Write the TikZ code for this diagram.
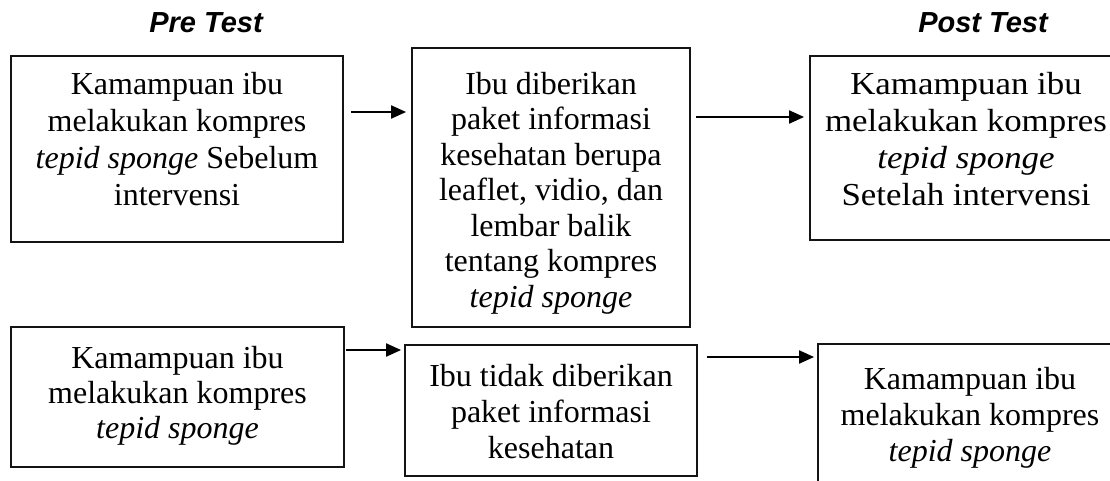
\documentclass[tikz,border=0pt]{standalone}
\usepackage{fontspec}
\setmainfont{Liberation Serif}
\setsansfont{Liberation Sans}
\newfontfamily\widefont[FakeStretch=1.09]{Liberation Serif}
\usepackage{xcolor}
\definecolor{BoxBorder}{RGB}{20,20,20}
\definecolor{ArrowColor}{RGB}{0,0,0}
\usepackage{tikz}
\usetikzlibrary{
  positioning,
  arrows.meta,
  calc
}
\tikzset{
  % Plain box (text is set on top of it)
  box/.style={
    rectangle,
    draw=BoxBorder,
    line width=1.8pt,
    inner sep=0pt
  },
  % Text inside a box
  txt/.style={
    align=center,
    inner sep=0pt,
    anchor=north,
    font=\fontsize{32}{37}\selectfont
  },
  % Arrow between boxes
  arr/.style={
    draw=ArrowColor,
    line width=2pt,
    -{Triangle[length=15pt,width=13pt]}
  },
  % Group heading
  head/.style={
    anchor=base,
    font=\sffamily\bfseries\itshape\fontsize{29}{34}\selectfont
  }
}

\begin{document}
\begin{tikzpicture}[x=1pt, y=-1pt]
  \useasboundingbox (0,0) rectangle (1110,480);
  \clip (0,0) rectangle (1110,480);
  % Headings
  \node[head] (pre)  at (206,32) {Pre Test};
  \node[head] (post) at (983,32) {Post Test};
  % Top row
  \node[box, minimum width=332pt, minimum height=186pt] (preA)  at (177,149) {};
  \node[box, minimum width=278pt, minimum height=279pt] (infoA) at (551,187.5) {};
  \node[box, minimum width=315pt, minimum height=184pt] (postA) at (967.5,148) {};
  \node[txt] (preAtext) at (177,72)
    {Kamampuan ibu\\melakukan kompres\\\textit{tepid sponge} Sebelum\\intervensi};
  \node[txt, font=\fontsize{32}{35.5}\selectfont] (infoAtext) at (551,72)
    {Ibu diberikan\\paket informasi\\kesehatan berupa\\leaflet, vidio, dan\\lembar balik\\tentang kompres\\\textit{tepid sponge}};
  \node[txt, font=\widefont\fontsize{32}{37}\selectfont] (postAtext) at (966,72)
    {Kamampuan ibu\\melakukan kompres\\\textit{tepid sponge}\\Setelah intervensi};
  % Bottom row
  \node[box, minimum width=333pt, minimum height=140pt] (preB)  at (177.5,397) {};
  \node[box, minimum width=292pt, minimum height=131pt] (infoB) at (551,410.5) {};
  \node[box, minimum width=304pt, minimum height=146pt] (postB) at (970,417) {};
  \node[txt, font=\fontsize{32}{35}\selectfont] (preBtext) at (177.5,346)
    {Kamampuan ibu\\melakukan kompres\\\textit{tepid sponge}};
  \node[txt, font=\fontsize{32}{36}\selectfont] (infoBtext) at (551,364)
    {Ibu tidak diberikan\\paket informasi\\kesehatan};
  \node[txt, font=\fontsize{32}{36}\selectfont] (postBtext) at (970,367)
    {Kamampuan ibu\\melakukan kompres\\\textit{tepid sponge}};
  % Arrows
  \draw[arr] ($(preA.east)+(7,-37)$) -- ($(infoA.west)+(-5,-75.5)$);
  \draw[arr] ($(infoA.east)+(5,-70.5)$) -- ($(postA.west)+(-5,-31)$);
  \draw[arr] ($(preB.east)+(1,-47)$) -- ($(infoB.west)+(-3,-60.5)$);
  \draw[arr] ($(infoB.east)+(9,-53.5)$) -- ($(postB.west)+(-3,-60)$);
\end{tikzpicture}
\end{document}
